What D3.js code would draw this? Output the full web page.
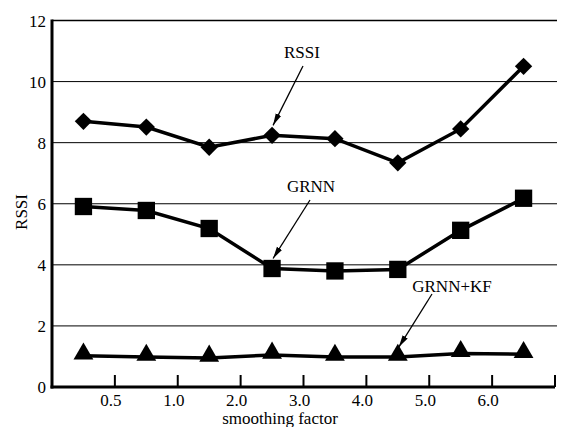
<!DOCTYPE html>
<html><head><meta charset="utf-8">
<script src="https://cdn.jsdelivr.net/npm/d3@7"></script>
<style>body{margin:0;background:#fff}svg{display:block}</style>
</head><body><svg id="c" width="563" height="427"></svg>
<script>
const categories = ["0.5","1.0","2.0","3.0","4.0","5.0","6.0",""];
const rssi = [8.70, 8.51, 7.85, 8.24, 8.13, 7.34, 8.45, 10.50];
const grnn = [5.91, 5.78, 5.19, 3.88, 3.80, 3.85, 5.13, 6.18];
const grnnkf = [1.02, 0.98, 0.95, 1.05, 0.98, 0.98, 1.10, 1.07];
const yTicks = [0, 2, 4, 6, 8, 10, 12];

const FF = "Liberation Serif";
const svg = d3.select("#c");
const L = 52, R = 555, T = 20.5, B = 387;
const x = d3.scaleBand().domain(d3.range(categories.length)).range([L, R]).paddingInner(0).paddingOuter(0);
const y = d3.scaleLinear().domain([0, 12]).range([B, T]);
const cx = i => x(i) + x.bandwidth() / 2;

// gridlines
svg.append("g").selectAll("line").data(yTicks.filter(v => v > 0)).join("line")
  .attr("x1", L).attr("x2", 557).attr("y1", d => y(d)).attr("y2", d => y(d))
  .attr("stroke", "#000").attr("stroke-width", d => d === 12 ? 1.5 : 1);

// y labels
svg.append("g").selectAll("text").data(yTicks).join("text")
  .attr("x", 46).attr("y", d => y(d) + 6).attr("text-anchor", "end")
  .attr("font-family", FF).attr("font-size", 17).text(d => d);

// x ticks (inward) and labels
const tickIdx = d3.range(categories.length);
svg.append("g").selectAll("line").data(tickIdx).join("line")
  .attr("x1", i => x(i) + x.bandwidth()).attr("x2", i => x(i) + x.bandwidth())
  .attr("y1", B).attr("y2", B - 12).attr("stroke", "#000").attr("stroke-width", 2);
svg.append("g").selectAll("text").data(tickIdx).join("text")
  .attr("x", i => x(i) + x.bandwidth() - 4).attr("y", 406).attr("text-anchor", "middle")
  .attr("font-family", FF).attr("font-size", 17).text(i => categories[i]);

// axes
svg.append("line").attr("x1", L).attr("x2", L).attr("y1", T - 1).attr("y2", B + 1.5).attr("stroke", "#000").attr("stroke-width", 3);
svg.append("line").attr("x1", L - 1.5).attr("x2", R).attr("y1", B).attr("y2", B).attr("stroke", "#000").attr("stroke-width", 3);

// axis titles
svg.append("text").attr("transform", `translate(27,212) rotate(-90)`).attr("text-anchor", "middle")
  .attr("font-family", FF).attr("font-size", 17).text("RSSI");
svg.append("text").attr("x", 280).attr("y", 424).attr("text-anchor", "middle")
  .attr("font-family", FF).attr("font-size", 17).text("smoothing factor");

// series
const line = d3.line().x((d, i) => cx(i)).y(d => y(d));
const series = [
  {v: rssi, sym: d3.symbolSquare, size: 150, rot: 45, dy: 0},
  {v: grnn, sym: d3.symbolSquare, size: 300, rot: 0, dy: 0},
  {v: grnnkf, sym: d3.symbolTriangle, size: 170, rot: 0, dy: -2}
];
series.forEach(s => {
  svg.append("path").attr("d", line(s.v)).attr("fill", "none").attr("stroke", "#000").attr("stroke-width", 3.5);
  svg.append("g").selectAll("path").data(s.v).join("path")
    .attr("transform", (d, i) => `translate(${cx(i)},${y(d) + s.dy}) rotate(${s.rot})`)
    .attr("d", d3.symbol().type(s.sym).size(s.size)).attr("fill", "#000");
});

// annotations
const defs = svg.append("defs");
defs.append("marker").attr("id", "ah").attr("viewBox", "0 0 12 8").attr("refX", 12).attr("refY", 4)
  .attr("markerWidth", 12).attr("markerHeight", 8).attr("markerUnits", "userSpaceOnUse").attr("orient", "auto")
  .append("path").attr("d", "M0,1 L12,4 L0,7 Z").attr("fill", "#000");
const notes = [
  {t: "RSSI", tx: 302, ty: 58, x1: 303, y1: 66, i: 3, v: rssi},
  {t: "GRNN", tx: 311, ty: 192, x1: 310, y1: 200, i: 3, v: grnn},
  {t: "GRNN+KF", tx: 452, ty: 292, x1: 432, y1: 294, i: 5, v: grnnkf}
];
notes.forEach(n => {
  svg.append("text").attr("x", n.tx).attr("y", n.ty).attr("text-anchor", "middle")
    .attr("font-family", FF).attr("font-size", 17).text(n.t);
  const ex = cx(n.i) + 1, ey = y(n.v[n.i]) - 10;
  svg.append("line").attr("x1", n.x1).attr("y1", n.y1).attr("x2", ex).attr("y2", ey)
    .attr("stroke", "#000").attr("stroke-width", 1.3).attr("marker-end", "url(#ah)");
});
</script></body></html>
